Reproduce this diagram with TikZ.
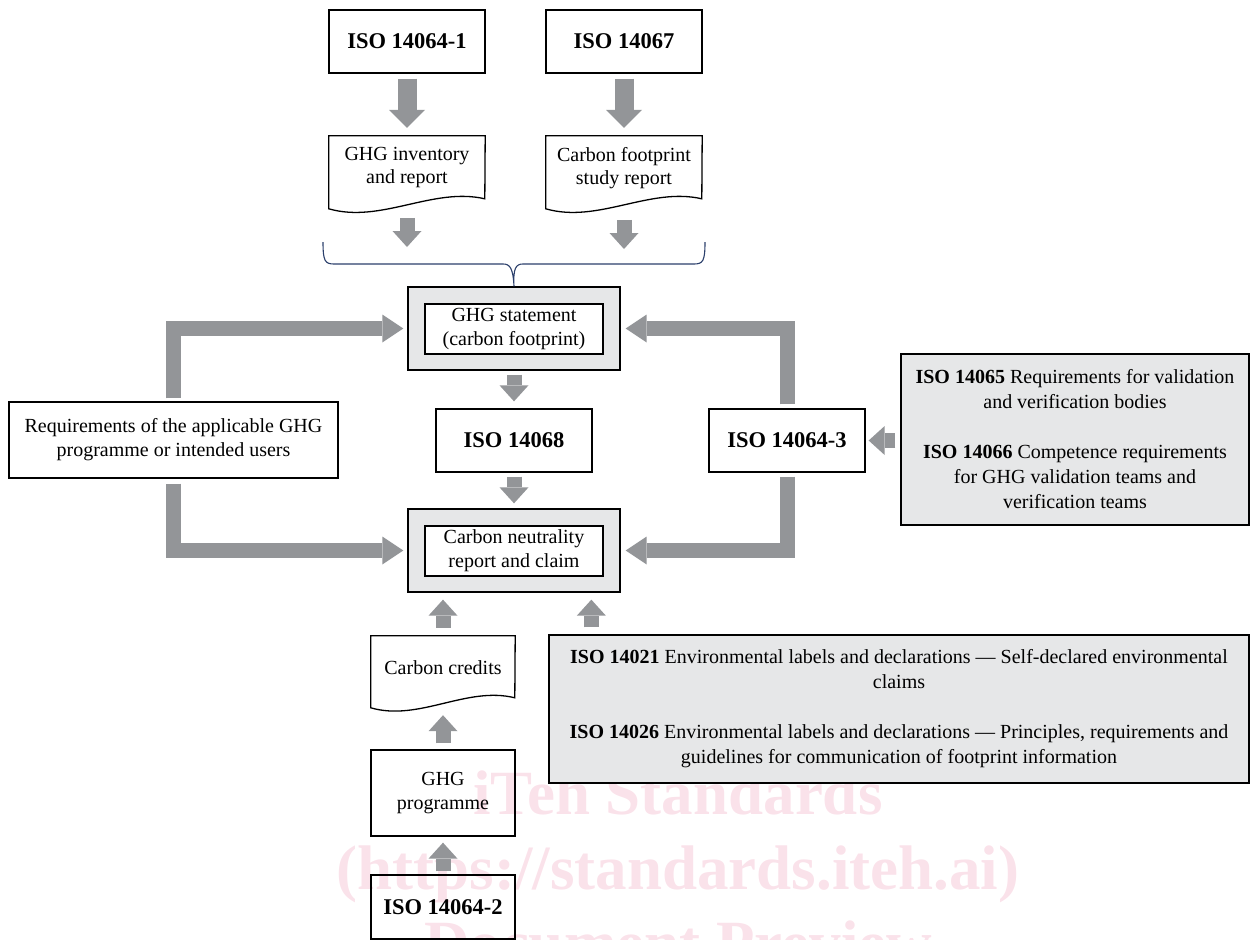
\documentclass[tikz,border=0pt]{standalone}
\usepackage{fontspec}
\setmainfont{Liberation Serif}
\usetikzlibrary{arrows.meta,calc}
\definecolor{arrowgray}{HTML}{939598}
\definecolor{boxgray}{HTML}{E6E7E8}
\definecolor{bracecol}{HTML}{2B3F6B}
\definecolor{wmark}{RGB}{250,226,234}
\tikzset{
  plainbox/.style={draw=black, line width=1.3pt, align=center, inner sep=0pt,
    font=\fontsize{20}{24}\selectfont},
  titlebox/.style={plainbox, font=\fontsize{22.5}{26}\selectfont\bfseries},
  outerbox/.style={draw=black, line width=1.3pt, fill=boxgray, inner sep=0pt},
  graybox/.style={plainbox, fill=boxgray, font=\fontsize{20}{25}\selectfont},
  docnode/.style={align=center, inner sep=0pt, font=\fontsize{20}{23}\selectfont},
  docline/.style={draw=black, line width=1.3pt},
  fatarrow/.style={draw=arrowgray, line width=19pt,
    -{Triangle[length=18pt,width=36pt,line width=0pt]}},
  blockarrow/.style={draw=arrowgray, line width=15pt,
    -{Triangle[length=16pt,width=29pt,line width=0pt]}},
  elbowarrow/.style={draw=arrowgray, line width=15pt,
    -{Triangle[length=21pt,width=28pt,line width=0pt]}},
  wmtext/.style={text=wmark, font=\fontsize{63}{63}\selectfont\bfseries, anchor=base, inner sep=0pt},
  bracestyle/.style={draw=bracecol, line width=1.1pt}
}
\begin{document}
\begin{tikzpicture}[x=1pt,y=-1pt]
\useasboundingbox (0,0) rectangle (1251,940);

% watermark
\node[wmtext] (wm1) at (678,814) {iTeh Standards};
\node[wmtext] (wm2) at (678,889) {(https://standards.iteh.ai)};
\node[wmtext] (wm3) at (678,964) {Document Preview};

% top standards
\node[titlebox, minimum width=156pt, minimum height=63pt] (iso1) at (407,41.5) {ISO 14064-1};
\node[titlebox, minimum width=156pt, minimum height=63pt] (iso67) at (624,41.5) {ISO 14067};

% documents
\node[docnode, minimum width=156pt, minimum height=64pt] (doc1) at (407,168) {GHG inventory\\and report};
\draw[docline] (doc1.north west) -- ++(0,73) .. controls +(52,15) and +(-52,-12) .. ++(156,-10) -- (doc1.north east) -- cycle;
\node[docnode, minimum width=156pt, minimum height=64pt] (doc2) at (624,168) {Carbon footprint\\study report};
\draw[docline] (doc2.north west) -- ++(0,73) .. controls +(52,15) and +(-52,-12) .. ++(156,-10) -- (doc2.north east) -- cycle;

\draw[fatarrow, shorten <=5pt, shorten >=8pt] (iso1.south) -- (doc1.north);
\draw[fatarrow, shorten <=5pt, shorten >=8pt] (iso67.south) -- (doc2.north);

% arrows into the brace
\coordinate (b1) at (407,247);
\coordinate (b2) at (624,249);
\draw[blockarrow] ($(doc1.north)+(0,82)$) coordinate (d1s) -- (b1);
\draw[blockarrow] ($(doc2.north)+(0,84)$) coordinate (d2s) -- (b2);

% GHG statement
\node[outerbox, minimum width=212pt, minimum height=83pt] (ghgs) at (514,328.5) {};
\node[plainbox, fill=white, minimum width=178pt, minimum height=50pt] (ghgsin) at (514,329) {GHG statement\\(carbon footprint)};

\draw[bracestyle] (323,242) .. controls (323,261) and (325,264) .. (334,264) -- (503,264)
  .. controls (510,264) and (513,268) .. (ghgs.north)
  .. controls (513,268) and (516,264) .. (523,264) -- (694,264)
  .. controls (703,264) and (705,261) .. (705,242);

% ISO 14068
\node[titlebox, minimum width=156pt, minimum height=63pt] (iso68) at (514,440.5) {ISO 14068};

% carbon neutrality
\node[outerbox, minimum width=212pt, minimum height=83pt] (cn) at (514,550.5) {};
\node[plainbox, fill=white, minimum width=178pt, minimum height=50pt] (cnin) at (514,551) {Carbon neutrality\\report and claim};

\draw[blockarrow, shorten <=4pt, shorten >=7pt] (ghgs.south) -- (iso68.north);
\draw[blockarrow, shorten <=4pt, shorten >=5pt] (iso68.south) -- (cn.north);

% requirements
\node[plainbox, minimum width=329pt, minimum height=76pt] (req) at (173.5,440) {Requirements of the applicable GHG\\programme or intended users};
\draw[elbowarrow, shorten <=3pt, shorten >=4pt] (req.north) |- (ghgs.west);
\draw[elbowarrow, shorten <=5pt, shorten >=4pt] (req.south) |- (cn.west);

% ISO 14064-3
\node[titlebox, minimum width=156pt, minimum height=63pt] (iso643) at (787,440.5) {ISO 14064-3};
\draw[elbowarrow, shorten <=4pt, shorten >=5pt] (iso643.north) |- (ghgs.east);
\draw[elbowarrow, shorten <=4pt, shorten >=5pt] (iso643.south) |- (cn.east);

% gray box right
\node[graybox, minimum width=348pt, minimum height=171pt] (gray1) at (1075,439.5)
  {\textbf{ISO 14065} Requirements for validation\\and verification bodies\\[25pt]\textbf{ISO 14066} Competence requirements\\for GHG validation teams and\\verification teams};
\draw[blockarrow, shorten <=5pt, shorten >=3pt] (gray1.west |- iso643) -- (iso643.east);

% gray box bottom
\node[graybox, minimum width=700pt, minimum height=148pt] (gray2) at (899,709)
  {\textbf{ISO 14021} Environmental labels and declarations — Self-declared environmental\\claims\\[25pt]\textbf{ISO 14026} Environmental labels and declarations — Principles, requirements and\\guidelines for communication of footprint information};
\draw[blockarrow, shorten <=7pt, shorten >=7pt] ($(gray2.north west)+(43,0)$) coordinate (g2s) -- (g2s |- cn.south);

% carbon credits
\node[docnode, minimum width=144pt, minimum height=64pt] (credits) at (443,668) {Carbon credits};
\draw[docline] (credits.north west) -- ++(0,72) .. controls +(48,14) and +(-48,-12) .. ++(144,-10) -- (credits.north east) -- cycle;
\draw[blockarrow, shorten <=8pt, shorten >=7pt] (credits.north) -- (credits.north |- cn.south);

% GHG programme
\node[plainbox, minimum width=144pt, minimum height=86pt] (ghgprog) at (443,793) {GHG\\programme};
\draw[blockarrow, shorten <=6pt, shorten >=15pt] (ghgprog.north) -- (credits.south);

% ISO 14064-2
\node[titlebox, minimum width=144pt, minimum height=64pt] (iso642) at (443,907) {ISO 14064-2};
\draw[blockarrow, shorten <=3pt, shorten >=6pt] (iso642.north) -- (ghgprog.south);
\end{tikzpicture}
\end{document}
